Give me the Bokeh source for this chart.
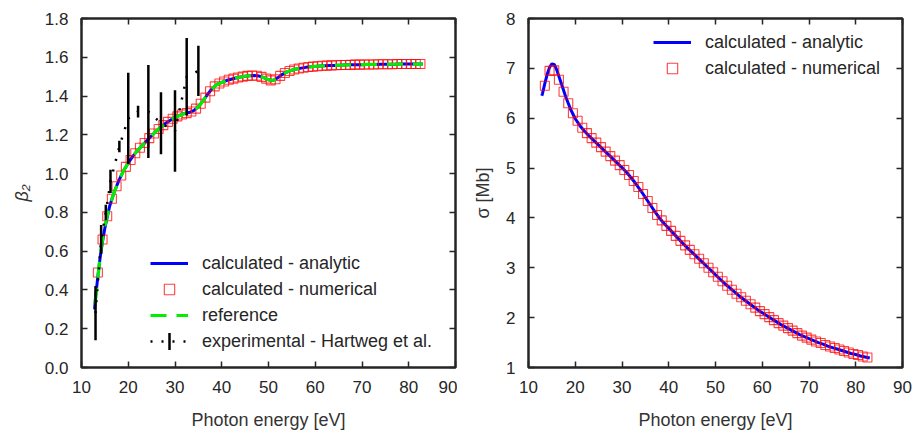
import numpy as np
from bokeh.plotting import figure
from bokeh.models import (FixedTicker, PrintfTickFormatter, LinearAxis, Legend,
                          LegendItem, Range1d)
from bokeh.layouts import row
from bokeh.embed import file_html
from bokeh.resources import INLINE

# ---------------- data ----------------
x_ticks = [10, 20, 30, 40, 50, 60, 70, 80, 90]
beta_ticks = [0.0, 0.2, 0.4, 0.6, 0.8, 1.0, 1.2, 1.4, 1.6, 1.8]
sigma_ticks = [1, 2, 3, 4, 5, 6, 7, 8]

# analytic beta_2
beta_an_E = [12.8, 13.0, 13.5, 14.0, 14.5, 15.0] + list(range(16, 84))
beta_an = [0.30, 0.36, 0.47, 0.57, 0.65, 0.72,
           0.83, 0.905, 0.965, 1.015, 1.055, 1.09, 1.12, 1.145, 1.17, 1.195,
           1.22, 1.24, 1.26, 1.275, 1.29, 1.30, 1.31, 1.315, 1.325, 1.345,
           1.375, 1.41, 1.44, 1.46, 1.47, 1.48, 1.487, 1.493, 1.498, 1.502,
           1.505, 1.506, 1.503, 1.495, 1.484, 1.48, 1.495, 1.512, 1.525, 1.533,
           1.54, 1.544, 1.548, 1.551, 1.553, 1.555, 1.556, 1.557, 1.558, 1.559,
           1.56, 1.561, 1.561, 1.562, 1.562, 1.563, 1.563, 1.563, 1.564, 1.564,
           1.564, 1.564, 1.565, 1.565, 1.565, 1.565, 1.565, 1.565]

# numerical beta_2 (squares)
num_E = [13.5 + i for i in range(70)]
beta_num = [0.49, 0.66, 0.78, 0.87, 0.935, 0.99, 1.035,
            1.07, 1.105, 1.133, 1.158, 1.183, 1.207, 1.23, 1.25, 1.267, 1.283,
            1.295, 1.305, 1.312, 1.32, 1.335, 1.36, 1.392, 1.425, 1.45, 1.465,
            1.475, 1.484, 1.49, 1.496, 1.50, 1.504, 1.506, 1.505, 1.499, 1.49,
            1.481, 1.487, 1.504, 1.519, 1.529, 1.537, 1.542, 1.546, 1.55, 1.552,
            1.554, 1.556, 1.557, 1.558, 1.559, 1.56, 1.56, 1.561, 1.562, 1.562,
            1.563, 1.563, 1.563, 1.564, 1.564, 1.564, 1.564, 1.565, 1.565, 1.565,
            1.565, 1.565, 1.565]

# reference beta_2 (green dashed)
ref_E = [12.9, 13.5, 14.0, 14.5, 15.0] + list(range(16, 84))
ref_beta = [0.33, 0.46, 0.58, 0.66, 0.73] + beta_an[6:]

# experimental (Hartweg et al.)
exp_E = [13.0, 14.2, 15.2, 16.2, 18.1, 20.0, 22.1, 24.3, 27.0, 30.0, 32.5, 35.0]
exp_beta = [0.28, 0.66, 0.80, 0.96, 1.14, 1.285, 1.32, 1.32, 1.26, 1.22, 1.50, 1.53]
exp_err = [0.14, 0.075, 0.04, 0.06, 0.03, 0.235, 0.03, 0.24, 0.16, 0.21, 0.20, 0.13]

# cross section
sig_an_E = [12.85, 13.0, 13.5, 14.0, 14.5, 15.0, 15.5, 16.0] + list(range(17, 84))
sig_an = [6.45, 6.50, 6.70, 6.88, 7.02, 7.09, 7.08, 6.98,
          6.70, 6.42, 6.18, 5.99, 5.85, 5.74, 5.64, 5.55, 5.46, 5.37, 5.28,
          5.19, 5.10, 5.01, 4.91, 4.80, 4.68, 4.55, 4.41, 4.27, 4.13, 4.00,
          3.89, 3.79, 3.69, 3.59, 3.49, 3.40, 3.31, 3.22, 3.13, 3.04, 2.95,
          2.86, 2.77, 2.68, 2.60, 2.52, 2.44, 2.37, 2.30, 2.23, 2.16, 2.10,
          2.04, 1.98, 1.92, 1.86, 1.81, 1.76, 1.71, 1.66, 1.62, 1.58, 1.54,
          1.50, 1.47, 1.43, 1.40, 1.37, 1.34, 1.31, 1.28, 1.26, 1.23, 1.21, 1.19]
sig_num = [6.65, 6.95, 6.96, 6.77, 6.53, 6.30, 6.10,
           5.95, 5.81, 5.70, 5.60, 5.51, 5.42, 5.33, 5.24, 5.15, 5.06,
           4.96, 4.86, 4.74, 4.62, 4.48, 4.34, 4.20, 4.06, 3.95, 3.84,
           3.74, 3.64, 3.54, 3.45, 3.36, 3.27, 3.18, 3.09, 3.00, 2.91,
           2.82, 2.73, 2.64, 2.56, 2.48, 2.41, 2.34, 2.27, 2.20, 2.13,
           2.07, 2.01, 1.95, 1.89, 1.84, 1.79, 1.74, 1.69, 1.64, 1.60,
           1.56, 1.52, 1.49, 1.45, 1.42, 1.39, 1.36, 1.33, 1.30, 1.27,
           1.25, 1.22, 1.20]

# ---------------- style ----------------
FONT = "Liberation Sans"
DARK = "#262626"
FRAME_W, FRAME_H = 374, 350


def make_fig(yr, yticks, yfmt, ylabel, bl, br, ylab_style):
    p = figure(width=457, height=432, x_range=Range1d(10, 90), y_range=yr,
               output_backend="svg", toolbar_location=None,
               min_border_left=bl, min_border_right=br,
               min_border_top=18, min_border_bottom=64)
    p.xgrid.visible = False
    p.ygrid.visible = False
    p.outline_line_color = DARK
    p.outline_line_width = 2.5
    p.outline_line_alpha = 1.0
    p.background_fill_color = "white"
    p.border_fill_color = "white"
    p.xaxis.ticker = FixedTicker(ticks=x_ticks)
    p.yaxis.ticker = FixedTicker(ticks=yticks)
    p.yaxis.formatter = PrintfTickFormatter(format=yfmt)
    p.xaxis.axis_label = "Photon energy [eV]"
    p.yaxis.axis_label = ylabel
    for ax in (p.xaxis, p.yaxis):
        ax.axis_line_color = None
        ax.major_tick_in = 6
        ax.major_tick_out = 0
        ax.major_tick_line_color = DARK
        ax.major_tick_line_width = 1.5
        ax.minor_tick_line_color = None
        ax.major_label_text_font = FONT
        ax.major_label_text_font_size = "17px"
        ax.major_label_text_color = DARK
        ax.major_label_standoff = 13
        ax.axis_label_text_font = FONT
        ax.axis_label_text_font_size = "18px"
        ax.axis_label_text_color = "#333333"
        ax.axis_label_text_font_style = "normal"
    p.xaxis.major_label_text_line_height = 1.0
    p.xaxis.axis_label_text_line_height = 1.0
    p.xaxis.axis_label_standoff = 14
    p.yaxis.axis_label_standoff = 10
    p.yaxis.axis_label_text_font_style = ylab_style
    for place, tk in (("above", x_ticks), ("right", yticks)):
        ax = LinearAxis(ticker=FixedTicker(ticks=tk), axis_line_color=None,
                        major_tick_in=6, major_tick_out=0,
                        major_tick_line_color=DARK, major_tick_line_width=1.5,
                        minor_tick_line_color=None,
                        major_label_text_font_size="1px",
                        major_label_text_color=None,
                        major_label_standoff=0)
        p.add_layout(ax, place)
    p.extra_x_ranges = {"px": Range1d(0, FRAME_W)}
    p.extra_y_ranges = {"px": Range1d(0, FRAME_H)}
    return p


def make_legend(items, loc):
    return Legend(items=items, location=loc, label_text_font=FONT,
                  label_text_font_size="18px", label_text_color=DARK,
                  glyph_width=38, glyph_height=26, label_height=26,
                  label_standoff=14, spacing=0, padding=0, margin=0,
                  border_line_color=None, background_fill_alpha=0)


# ---------------- left: beta_2 ----------------
p1 = make_fig(Range1d(0, 1.8), beta_ticks, "%.1f", "β₂", 81, 2, "italic")
r_an = p1.line(beta_an_E, beta_an, line_color="#0000ff", line_width=3)
r_num = p1.scatter(num_E, beta_num, marker="square", size=9, fill_color=None,
                   line_color="#ff0000", line_alpha=0.75, line_width=1.1)
r_ref = p1.line(ref_E, ref_beta, line_color="#00ee00", line_width=3.2,
                line_dash="16 10")
exp_lo = [b - e for b, e in zip(exp_beta, exp_err)]
exp_hi = [b + e for b, e in zip(exp_beta, exp_err)]
r_exp = p1.line(exp_E, exp_beta, line_color="black", line_width=2.5,
                line_dash="2 9")
p1.segment(x0=exp_E, y0=exp_lo, x1=exp_E, y1=exp_hi, line_color="black",
           line_width=2.5)

L1_LOC = (69, 13)
leg1 = make_legend([
    LegendItem(label="calculated - analytic", renderers=[r_an]),
    LegendItem(label="calculated - numerical", renderers=[r_num]),
    LegendItem(label="reference", renderers=[r_ref]),
    LegendItem(label="experimental - Hartweg et al.", renderers=[r_exp]),
], L1_LOC)
p1.add_layout(leg1)
# vertical error-bar key in the legend (centre of the 4th key)
kx = L1_LOC[0] + 38 / 2
ky = L1_LOC[1] + 26 / 2
p1.segment(x0=[kx], y0=[ky - 8.5], x1=[kx], y1=[ky + 8.5], line_color="black",
           line_width=2.5, x_range_name="px", y_range_name="px")

# ---------------- right: sigma ----------------
p2 = make_fig(Range1d(1, 8), sigma_ticks, "%d", "σ [Mb]", 71, 12, "normal")
s_an = p2.line(sig_an_E, sig_an, line_color="#0000ff", line_width=3)
s_num = p2.scatter(num_E, sig_num, marker="square", size=9, fill_color=None,
                   line_color="#ff0000", line_alpha=0.75, line_width=1.1)
leg2 = make_legend([
    LegendItem(label="calculated - analytic", renderers=[s_an]),
    LegendItem(label="calculated - numerical", renderers=[s_num]),
], (125, 286))
p2.add_layout(leg2)

layout = row(p1, p2)
open("out.html", "w").write(file_html(layout, INLINE))
